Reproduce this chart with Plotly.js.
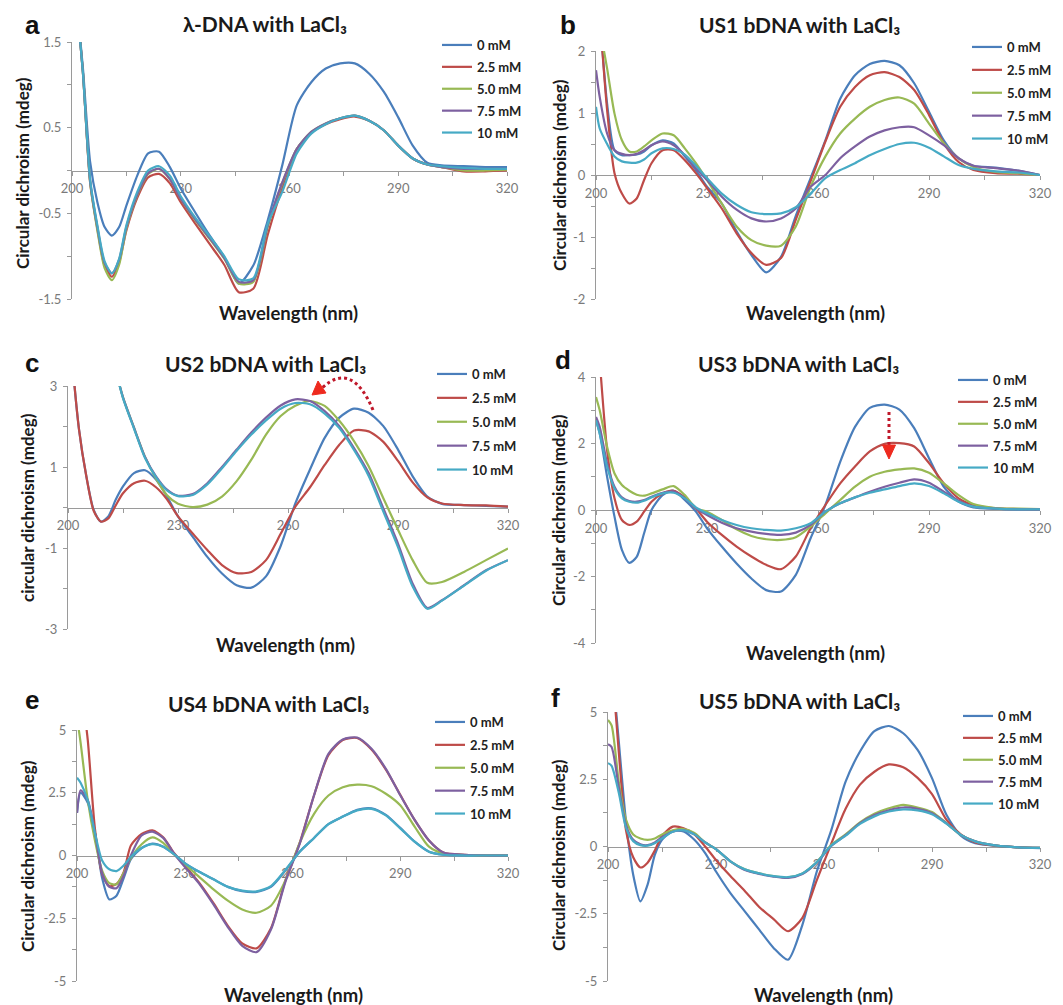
<!DOCTYPE html>
<html>
<head>
<meta charset="utf-8">
<script src="https://cdn.plot.ly/plotly-3.0.1.min.js"></script>
<style>html,body{margin:0;padding:0;background:#fff;}</style>
</head>
<body>
<div id="chart" style="width:1063px;height:1005px;"></div>
<script>
// ---------------- DATA ----------------
const wavelength = [200, 201, 203, 205, 207, 209, 211, 213, 215, 218, 221, 224, 227, 230, 234, 238, 242, 246, 250, 254, 258, 262, 266, 270, 274, 278, 282, 286, 290, 294, 298, 302, 308, 314, 320];
const concLabels = ['0 mM', '2.5 mM', '5.0 mM', '7.5 mM', '10 mM'];
const xTickVals = [200, 230, 260, 290, 320];
const xTickText = ['200', '230', '260', '290', '320'];

// panel a: lambda-DNA
const a0   = [2.6, 2.1, 1.2, 0.1, -0.37, -0.66, -0.76, -0.66, -0.41, -0.06, 0.2, 0.22, 0.04, -0.21, -0.49, -0.76, -1.01, -1.32, -1.11, -0.58, 0.06, 0.76, 1.03, 1.19, 1.25, 1.25, 1.13, 0.92, 0.62, 0.29, 0.09, 0.06, 0.05, 0.04, 0.04];
const a25  = [2.6, 2.1, 1.15, -0.14, -0.68, -1.11, -1.24, -1.07, -0.7, -0.32, -0.08, -0.04, -0.15, -0.37, -0.62, -0.86, -1.1, -1.42, -1.38, -0.75, -0.2, 0.25, 0.44, 0.54, 0.6, 0.63, 0.58, 0.47, 0.29, 0.14, 0.07, 0.04, -0.01, -0.01, 0.0];
const a50  = [2.6, 2.1, 1.15, -0.14, -0.7, -1.14, -1.28, -1.1, -0.68, -0.29, -0.04, 0.02, -0.1, -0.33, -0.58, -0.8, -1.03, -1.32, -1.3, -0.66, -0.15, 0.25, 0.45, 0.55, 0.61, 0.64, 0.58, 0.47, 0.29, 0.14, 0.07, 0.04, 0.0, 0.0, 0.01];
const a75  = [2.6, 2.1, 1.15, -0.12, -0.66, -1.08, -1.2, -1.04, -0.66, -0.28, -0.03, 0.02, -0.1, -0.33, -0.57, -0.79, -1.02, -1.3, -1.28, -0.64, -0.14, 0.25, 0.45, 0.55, 0.61, 0.64, 0.58, 0.47, 0.29, 0.14, 0.07, 0.04, 0.02, 0.02, 0.02];
const a100 = [2.6, 2.1, 1.15, -0.1, -0.64, -1.06, -1.2, -1.03, -0.64, -0.25, 0.0, 0.05, -0.06, -0.3, -0.55, -0.77, -1.0, -1.27, -1.26, -0.62, -0.25, 0.2, 0.43, 0.54, 0.61, 0.64, 0.58, 0.47, 0.29, 0.14, 0.07, 0.05, 0.03, 0.02, 0.02];

// panel b: US1
const b0   = [3.5, 2.6, 1.15, 0.4, 0.32, 0.32, 0.33, 0.38, 0.48, 0.56, 0.51, 0.3, 0.08, -0.19, -0.46, -0.91, -1.29, -1.57, -1.32, -0.66, -0.05, 0.56, 1.23, 1.61, 1.79, 1.84, 1.77, 1.48, 1.02, 0.56, 0.27, 0.15, 0.12, 0.07, 0.0];
const b25  = [3.5, 2.6, 1.05, 0.03, -0.3, -0.46, -0.38, -0.08, 0.19, 0.4, 0.4, 0.24, 0.03, -0.21, -0.54, -0.94, -1.26, -1.45, -1.34, -0.72, -0.1, 0.54, 1.1, 1.42, 1.61, 1.66, 1.58, 1.37, 0.97, 0.51, 0.21, 0.08, 0.03, 0.02, 0.0];
const b50  = [2.9, 2.4, 1.72, 0.99, 0.56, 0.38, 0.38, 0.46, 0.56, 0.67, 0.64, 0.43, 0.19, -0.08, -0.46, -0.83, -1.05, -1.14, -1.14, -0.83, -0.19, 0.3, 0.67, 0.91, 1.1, 1.21, 1.25, 1.15, 0.83, 0.51, 0.27, 0.13, 0.05, 0.03, 0.0];
const b75  = [1.69, 1.26, 0.67, 0.4, 0.34, 0.32, 0.34, 0.4, 0.48, 0.54, 0.48, 0.32, 0.11, -0.08, -0.35, -0.56, -0.7, -0.75, -0.7, -0.54, -0.19, 0.0, 0.27, 0.46, 0.62, 0.72, 0.77, 0.77, 0.64, 0.48, 0.27, 0.15, 0.11, 0.07, 0.0];
const b100 = [1.1, 0.75, 0.5, 0.3, 0.22, 0.2, 0.2, 0.25, 0.35, 0.43, 0.42, 0.33, 0.15, -0.05, -0.3, -0.48, -0.6, -0.63, -0.62, -0.52, -0.3, -0.05, 0.08, 0.19, 0.32, 0.42, 0.5, 0.52, 0.44, 0.3, 0.16, 0.1, 0.06, 0.04, 0.0];

// panel c: US2
const c0   = [5, 3.8, 1.93, 0.77, -0.06, -0.35, -0.22, 0.19, 0.52, 0.85, 0.92, 0.69, 0.27, -0.22, -0.72, -1.22, -1.63, -1.92, -1.98, -1.7, -0.95, 0.1, 0.94, 1.72, 2.22, 2.44, 2.34, 2.01, 1.43, 0.77, 0.27, 0.09, 0.06, 0.04, 0.02];
const c25  = [5, 3.8, 1.93, 0.77, -0.08, -0.35, -0.27, 0.05, 0.35, 0.6, 0.66, 0.5, 0.2, -0.22, -0.64, -1.05, -1.42, -1.62, -1.59, -1.3, -0.65, 0.02, 0.5, 1.05, 1.55, 1.9, 1.88, 1.62, 1.15, 0.62, 0.25, 0.1, 0.06, 0.05, 0.02];
const c50  = [9, 8, 7.3, 6.6, 5.8, 5.0, 4.2, 3.4, 2.72, 1.97, 1.25, 0.72, 0.3, 0.09, 0.01, 0.07, 0.27, 0.65, 1.18, 1.8, 2.26, 2.51, 2.63, 2.51, 2.14, 1.64, 1.02, 0.23, -0.55, -1.3, -1.86, -1.84, -1.59, -1.3, -1.01];
const c75  = [9, 8, 7.3, 6.6, 5.8, 5.0, 4.2, 3.4, 2.72, 1.97, 1.25, 0.77, 0.44, 0.29, 0.33, 0.6, 1.0, 1.43, 1.85, 2.22, 2.52, 2.67, 2.63, 2.38, 2.01, 1.47, 0.85, -0.02, -0.89, -1.88, -2.48, -2.29, -1.92, -1.55, -1.3];
const c100 = [9, 8, 7.3, 6.6, 5.8, 5.0, 4.2, 3.4, 2.7, 1.95, 1.22, 0.75, 0.42, 0.28, 0.31, 0.57, 0.97, 1.4, 1.8, 2.15, 2.44, 2.58, 2.55, 2.32, 1.96, 1.42, 0.78, -0.1, -0.98, -1.95, -2.5, -2.3, -1.93, -1.56, -1.3];

// panel d: US3
const d0   = [2.7, 2.31, 1.0, -0.2, -1.2, -1.59, -1.41, -0.7, 0.0, 0.45, 0.58, 0.3, -0.05, -0.55, -1.1, -1.61, -2.06, -2.41, -2.45, -1.95, -0.85, 0.15, 1.45, 2.5, 3.07, 3.17, 3.02, 2.46, 1.56, 0.7, 0.25, 0.08, 0.04, 0.02, 0.02];
const d25  = [6, 4.5, 1.8, 0.35, -0.3, -0.45, -0.35, -0.05, 0.25, 0.5, 0.58, 0.38, 0.05, -0.35, -0.75, -1.1, -1.4, -1.65, -1.78, -1.4, -0.55, 0.15, 0.8, 1.31, 1.76, 1.99, 2.01, 1.91, 1.41, 0.8, 0.35, 0.15, 0.05, 0.03, 0.02];
const d50  = [3.4, 3.0, 1.9, 1.1, 0.75, 0.58, 0.46, 0.43, 0.5, 0.62, 0.72, 0.45, 0.05, -0.05, -0.3, -0.58, -0.78, -0.88, -0.9, -0.82, -0.5, -0.1, 0.3, 0.7, 1.0, 1.15, 1.22, 1.25, 1.12, 0.8, 0.45, 0.18, 0.06, 0.04, 0.03];
const d75  = [2.8, 2.5, 1.4, 0.7, 0.38, 0.27, 0.25, 0.3, 0.4, 0.52, 0.56, 0.35, 0.05, -0.15, -0.38, -0.55, -0.65, -0.72, -0.75, -0.68, -0.45, -0.05, 0.2, 0.38, 0.55, 0.7, 0.82, 0.92, 0.82, 0.55, 0.28, 0.1, 0.04, 0.02, 0.02];
const d100 = [2.7, 2.3, 1.3, 0.65, 0.35, 0.25, 0.22, 0.28, 0.38, 0.5, 0.52, 0.35, 0.08, -0.1, -0.3, -0.45, -0.55, -0.6, -0.62, -0.55, -0.4, -0.05, 0.2, 0.38, 0.52, 0.62, 0.72, 0.8, 0.72, 0.5, 0.25, 0.1, 0.04, 0.02, 0.02];

// panel e: US4
const e0   = [1.7, 2.5, 2.1, 0.9, -0.9, -1.75, -1.6, -0.9, -0.15, 0.3, 0.47, 0.35, 0.05, -0.3, -0.65, -0.95, -1.25, -1.42, -1.45, -1.25, -0.6, 0.15, 0.7, 1.25, 1.55, 1.82, 1.88, 1.62, 1.1, 0.55, 0.15, 0.03, 0.0, 0.0, 0.0];
const e25  = [9, 7, 4.6, 1.06, -0.73, -1.22, -1.13, -0.66, 0.4, 0.86, 1.0, 0.73, 0.1, -0.4, -1.08, -1.9, -2.8, -3.5, -3.7, -2.9, -1.0, 0.5, 2.4, 4.0, 4.6, 4.68, 4.22, 3.42, 2.42, 1.42, 0.6, 0.12, 0.03, 0.0, 0.0];
const e50  = [5.5, 4.5, 2.2, 0.6, -0.6, -1.1, -1.15, -0.7, -0.1, 0.45, 0.72, 0.5, 0.05, -0.35, -0.85, -1.35, -1.8, -2.15, -2.28, -2.0, -1.0, 0.5, 1.66, 2.39, 2.72, 2.82, 2.76, 2.46, 2.0, 1.15, 0.35, 0.08, 0.02, 0.0, 0.0];
const e75  = [1.7, 2.6, 2.2, 0.9, -0.7, -1.25, -1.3, -0.8, 0.0, 0.8, 0.95, 0.7, 0.08, -0.45, -1.12, -1.95, -2.85, -3.6, -3.85, -2.95, -1.06, 0.46, 2.4, 4.05, 4.62, 4.7, 4.25, 3.45, 2.4, 1.42, 0.6, 0.12, 0.03, 0.0, 0.0];
const e100 = [3.1, 2.9, 2.2, 0.9, -0.2, -0.55, -0.62, -0.4, -0.05, 0.3, 0.45, 0.35, 0.05, -0.3, -0.65, -0.95, -1.25, -1.4, -1.43, -1.22, -0.58, 0.15, 0.7, 1.25, 1.55, 1.8, 1.86, 1.6, 1.08, 0.55, 0.15, 0.03, 0.0, 0.0, 0.0];

// panel f: US5
const f0   = [9, 7, 3.9, 0.93, -1.05, -2.04, -1.42, -0.31, 0.25, 0.58, 0.56, 0.25, -0.25, -0.93, -1.73, -2.41, -3.09, -3.77, -4.21, -2.91, -0.93, 0.6, 2.41, 3.53, 4.29, 4.48, 4.21, 3.59, 2.54, 1.18, 0.4, 0.12, 0.02, -0.03, -0.06];
const f25  = [9, 7, 3.5, 0.6, -0.4, -0.78, -0.6, -0.15, 0.4, 0.74, 0.68, 0.45, 0.0, -0.5, -1.1, -1.65, -2.25, -2.7, -3.15, -2.65, -1.25, 0.1, 1.4, 2.3, 2.78, 3.05, 2.95, 2.55, 1.95, 1.0, 0.45, 0.15, 0.02, -0.03, -0.05];
const f50  = [4.7, 4.5, 2.4, 1.0, 0.45, 0.3, 0.25, 0.3, 0.45, 0.6, 0.65, 0.5, 0.15, -0.1, -0.55, -0.85, -1.0, -1.1, -1.15, -1.0, -0.58, 0.05, 0.45, 0.9, 1.22, 1.42, 1.55, 1.45, 1.28, 0.87, 0.43, 0.19, 0.03, -0.03, -0.05];
const f75  = [3.8, 3.7, 2.2, 0.8, 0.25, 0.08, 0.05, 0.15, 0.35, 0.55, 0.6, 0.45, 0.15, -0.1, -0.55, -0.87, -1.02, -1.12, -1.17, -1.02, -0.6, 0.02, 0.42, 0.87, 1.17, 1.35, 1.45, 1.4, 1.24, 0.87, 0.43, 0.19, 0.03, -0.03, -0.05];
const f100 = [3.1, 3.0, 2.0, 0.7, 0.2, 0.05, 0.03, 0.12, 0.3, 0.55, 0.6, 0.45, 0.15, -0.1, -0.55, -0.85, -1.0, -1.1, -1.14, -1.0, -0.58, 0.03, 0.4, 0.84, 1.12, 1.3, 1.38, 1.34, 1.2, 0.85, 0.43, 0.19, 0.03, -0.03, -0.05];

// y tick values / labels (labelled ticks; unlabelled ticks drawn as minor ticks)
const aYTickVals = [-1.5, -0.5, 0.5, 1.5];
const aYTickText = ['-1.5', '-0.5', '0.5', '1.5'];
const bYTickVals = [-2, -1, 0, 1, 2];
const bYTickText = ['-2', '-1', '0', '1', '2'];
const cYTickVals = [-3, -1, 1, 3];
const cYTickText = ['-3', '-1', '1', '3'];
const dYTickVals = [-4, -2, 0, 2, 4];
const dYTickText = ['-4', '-2', '0', '2', '4'];
const efYTickVals = [-5, -2.5, 0, 2.5, 5];
const efYTickText = ['-5', '-2.5', '0', '2.5', '5'];

// ---------------- STYLE / LAYOUT ----------------
const W = 1063, H = 1005;
const px = v => v / W;
const py = v => 1 - v / H;
const seriesColors = ['#4A7EBB', '#BE4B48', '#98B954', '#7D60A0', '#46AAC5'];
const FONT = 'Lato, "Open Sans", sans-serif';
const AXC = '#9a9a9a';

const panels = [
  {letter: 'a', title: 'λ-DNA with LaCl₃', ytitle: 'Circular dichroism (mdeg)',
   series: [a0, a25, a50, a75, a100], yRange: [-1.5, 1.5], yVals: aYTickVals, yText: aYTickText, yMinor: 0.5,
   box: [72, 507, 42, 299], letterPos: [32, 25], titlePos: [265, 23], yTitlePos: [22, 173], xTitlePos: [288, 313],
   legendPos: [437, 30], gap: 2},
  {letter: 'b', title: 'US1 bDNA with LaCl₃', ytitle: 'Circular dichroism (mdeg)',
   series: [b0, b25, b50, b75, b100], yRange: [-2, 2], yVals: bYTickVals, yText: bYTickText, yMinor: 0.5,
   box: [596, 1040, 51, 299], letterPos: [568, 25], titlePos: [799, 25], yTitlePos: [560, 175], xTitlePos: [815, 313],
   legendPos: [967, 32], gap: 3},
  {letter: 'c', title: 'US2 bDNA with LaCl₃', ytitle: 'circular dichroism (mdeg)',
   series: [c0, c25, c50, c75, c100], yRange: [-3, 3], yVals: cYTickVals, yText: cYTickText, yMinor: 1,
   box: [68, 508, 386, 629], letterPos: [32, 363], titlePos: [265, 363], yTitlePos: [28, 508], xTitlePos: [285, 645],
   legendPos: [432, 359], gap: 4},
  {letter: 'd', title: 'US3 bDNA with LaCl₃', ytitle: 'Circular dichroism (mdeg)',
   series: [d0, d25, d50, d75, d100], yRange: [-4, 4], yVals: dYTickVals, yText: dYTickText, yMinor: 1,
   box: [596, 1040, 377, 643], letterPos: [563, 360], titlePos: [798, 363], yTitlePos: [558, 510], xTitlePos: [815, 653],
   legendPos: [953, 365], gap: 2},
  {letter: 'e', title: 'US4 bDNA with LaCl₃', ytitle: 'Circular dichroism (mdeg)',
   series: [e0, e25, e50, e75, e100], yRange: [-5, 5], yVals: efYTickVals, yText: efYTickText, yMinor: 1.25,
   box: [77, 508, 730, 981], letterPos: [32, 700], titlePos: [268, 703], yTitlePos: [27, 856], xTitlePos: [293, 995],
   legendPos: [430, 707], gap: 3},
  {letter: 'f', title: 'US5 bDNA with LaCl₃', ytitle: 'Circular dichroism (mdeg)',
   series: [f0, f25, f50, f75, f100], yRange: [-5, 5], yVals: efYTickVals, yText: efYTickText, yMinor: 1.25,
   box: [608, 1040, 712, 981], letterPos: [555, 698], titlePos: [799, 700], yTitlePos: [558, 855], xTitlePos: [823, 995],
   legendPos: [958, 701], gap: 2}
];

const traces = [];
const layout = {
  width: W, height: H,
  margin: {l: 0, r: 0, t: 0, b: 0},
  paper_bgcolor: '#ffffff', plot_bgcolor: 'rgba(0,0,0,0)',
  font: {family: FONT, color: '#222'},
  annotations: [], shapes: [], showlegend: true
};

panels.forEach((p, i) => {
  const n = i === 0 ? '' : String(i + 1);
  const [l, r, t, b] = p.box;
  const yDom = [py(b), py(t)];
  const zeroPos = yDom[0] + (0 - p.yRange[0]) / (p.yRange[1] - p.yRange[0]) * (yDom[1] - yDom[0]);
  const legendId = 'legend' + n;

  layout['xaxis' + n] = {
    domain: [px(l), px(r)], range: [200, 320], anchor: 'free', position: zeroPos,
    tickmode: 'array', tickvals: xTickVals, ticktext: xTickText, ticks: 'outside', ticklen: 4, tickcolor: AXC,
    minor: {tickmode: 'linear', tick0: 200, dtick: 15, ticks: 'outside', ticklen: 4, tickcolor: AXC, showgrid: false},
    showline: true, linecolor: AXC, linewidth: 1, showgrid: false, zeroline: false,
    tickfont: {family: FONT, size: 13, color: '#7a7a7a'}, ticklabelstandoff: 2,
    layer: 'below traces', fixedrange: true
  };
  layout['yaxis' + n] = {
    domain: yDom, range: p.yRange, anchor: 'x' + n,
    tickmode: 'array', tickvals: p.yVals, ticktext: p.yText, ticks: 'outside', ticklen: 4, tickcolor: AXC,
    minor: {tickmode: 'linear', tick0: 0, dtick: p.yMinor, ticks: 'outside', ticklen: 4, tickcolor: AXC, showgrid: false},
    showline: true, linecolor: AXC, linewidth: 1, showgrid: false, zeroline: false,
    tickfont: {family: FONT, size: 13, color: '#7a7a7a'}, ticklabelstandoff: 3,
    layer: 'below traces', fixedrange: true
  };
  layout[legendId] = {
    x: px(p.legendPos[0]), y: py(p.legendPos[1]), xanchor: 'left', yanchor: 'top',
    bgcolor: 'rgba(0,0,0,0)', borderwidth: 0, tracegroupgap: p.gap,
    font: {family: FONT, size: 13, color: '#222', weight: 'bold'}
  };

  p.series.forEach((ys, j) => {
    traces.push({
      type: 'scatter', mode: 'lines', x: wavelength, y: ys,
      xaxis: 'x' + n, yaxis: 'y' + n, name: concLabels[j],
      legend: legendId, legendgroup: p.letter + j,
      line: {color: seriesColors[j], width: 2.2, shape: 'spline', smoothing: 0.7},
      hoverinfo: 'skip'
    });
  });

  layout.annotations.push(
    {text: '<b>' + p.letter + '</b>', xref: 'paper', yref: 'paper', x: px(p.letterPos[0]), y: py(p.letterPos[1]),
     xanchor: 'center', yanchor: 'middle', showarrow: false,
     font: {family: '"Liberation Sans", Arial, sans-serif', size: 26, color: '#111'}},
    {text: '<b>' + p.title + '</b>', xref: 'paper', yref: 'paper', x: px(p.titlePos[0]), y: py(p.titlePos[1]),
     xanchor: 'center', yanchor: 'middle', showarrow: false,
     font: {family: FONT, size: 21, color: '#1a1a1a'}},
    {text: '<b>' + p.ytitle + '</b>', xref: 'paper', yref: 'paper', x: px(p.yTitlePos[0]), y: py(p.yTitlePos[1]),
     xanchor: 'center', yanchor: 'middle', showarrow: false, textangle: -90,
     font: {family: FONT, size: 17, color: '#1a1a1a'}},
    {text: '<b>Wavelength (nm)</b>', xref: 'paper', yref: 'paper', x: px(p.xTitlePos[0]), y: py(p.xTitlePos[1]),
     xanchor: 'center', yanchor: 'middle', showarrow: false,
     font: {family: FONT, size: 18.5, color: '#1a1a1a'}}
  );
});

// red dotted arrows marking the shifts in panels c and d
const arrowDot = '#C0182A', arrowHead = '#EE2A1E';
const pathFrom = pts => 'M ' + pts.map(q => px(q[0]) + ',' + py(q[1])).join(' L ') + ' Z';
layout.shapes.push({
  type: 'path', xref: 'paper', yref: 'paper',
  path: 'M ' + px(373) + ',' + py(410) + ' Q ' + px(352) + ',' + py(360) + ' ' + px(322) + ',' + py(388),
  line: {color: arrowDot, width: 3, dash: 'dot'}
});
layout.shapes.push({
  type: 'path', xref: 'paper', yref: 'paper',
  path: pathFrom([[312, 395], [326, 393], [318, 381]]),
  fillcolor: arrowHead, line: {color: arrowHead, width: 1}
});
layout.shapes.push({
  type: 'line', xref: 'paper', yref: 'paper', x0: px(889), x1: px(889), y0: py(412), y1: py(446),
  line: {color: arrowDot, width: 3, dash: 'dot'}
});
layout.shapes.push({
  type: 'path', xref: 'paper', yref: 'paper',
  path: pathFrom([[889, 459], [882.5, 445], [895.5, 445]]),
  fillcolor: arrowHead, line: {color: arrowHead, width: 1}
});

Plotly.newPlot('chart', traces, layout, {displayModeBar: false, staticPlot: true});
</script>
</body>
</html>
